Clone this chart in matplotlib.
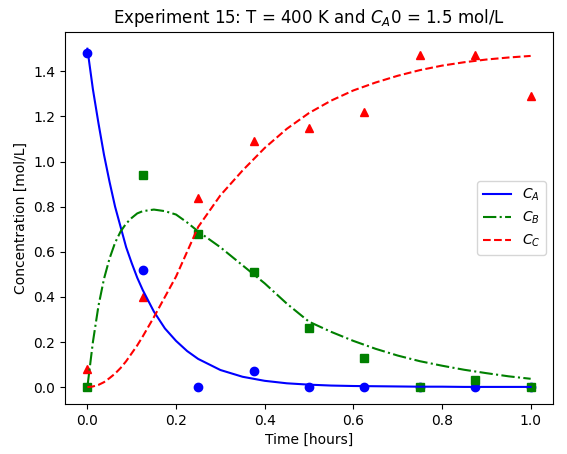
import matplotlib
matplotlib.use("Agg")
import matplotlib.pyplot as plt

t_data = [0, 0.125, 0.25, 0.375, 0.5, 0.625, 0.75, 0.875, 1.0]
CA_data = [1.48, 0.52, 0.0, 0.07, 0.0, 0.0, 0.0, 0.0, 0.0]
CB_data = [0.0, 0.94, 0.68, 0.51, 0.26, 0.13, 0.0, 0.03, 0.0]
CC_data = [0.08, 0.40, 0.84, 1.09, 1.15, 1.22, 1.47, 1.47, 1.29]

t_fit = [0, 0.0125, 0.025, 0.0375, 0.05, 0.0625, 0.075, 0.0875, 0.1, 0.1125, 0.125, 0.15, 0.175,
         0.2, 0.225, 0.25, 0.3, 0.35, 0.4, 0.45, 0.5, 0.55, 0.6, 0.65, 0.7, 0.75, 0.8, 0.85,
         0.9, 0.95, 1.0]
CA_fit = [1.5, 1.32, 1.17, 1.03, 0.91, 0.80, 0.71, 0.62, 0.55, 0.485, 0.43, 0.335, 0.26,
          0.205, 0.16, 0.125, 0.076, 0.046, 0.028, 0.017, 0.011, 0.007, 0.005, 0.004, 0.003,
          0.002, 0.002, 0.001, 0.001, 0.001, 0.001]
CB_fit = [0.0, 0.20, 0.36, 0.48, 0.57, 0.64, 0.69, 0.725, 0.75, 0.77, 0.78, 0.787, 0.78,
          0.765, 0.73, 0.69, 0.62, 0.54, 0.46, 0.37, 0.29, 0.245, 0.205, 0.17, 0.14,
          0.115, 0.095, 0.077, 0.062, 0.048, 0.037]
CC_fit = [0.0, 0.003, 0.01, 0.022, 0.04, 0.06, 0.085, 0.115, 0.15, 0.185, 0.225, 0.31, 0.40,
          0.49, 0.60, 0.71, 0.85, 0.96, 1.06, 1.145, 1.215, 1.27, 1.315, 1.35, 1.38, 1.405,
          1.425, 1.44, 1.452, 1.461, 1.468]

fig, ax = plt.subplots(figsize=(5.67, 4.54), dpi=100)
ax.plot(t_data, CA_data, 'bo')
ax.plot(t_data, CB_data, 'gs')
ax.plot(t_data, CC_data, 'r^')
ax.plot(t_fit, CA_fit, 'b-', label='$C_A$')
ax.plot(t_fit, CB_fit, 'g-.', label='$C_B$')
ax.plot(t_fit, CC_fit, 'r--', label='$C_C$')
ax.set_xlabel('Time [hours]')
ax.set_ylabel('Concentration [mol/L]')
ax.set_title('Experiment 15: T = 400 K and $C_A$0 = 1.5 mol/L')
ax.legend(loc='center right')
fig.subplots_adjust(left=0.115, right=0.975, top=0.93, bottom=0.11)
fig.savefig('out.png', dpi=100)
